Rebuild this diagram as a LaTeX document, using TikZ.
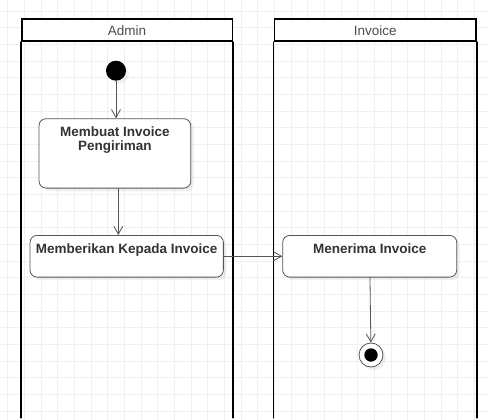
\documentclass[tikz,border=0pt]{standalone}
\usepackage{fontspec}
\setmainfont{Liberation Sans}
\usetikzlibrary{arrows.meta,shadows}
\definecolor{gridgray}{HTML}{F0F0F0}
\definecolor{edgegray}{HTML}{555555}
\definecolor{textgray}{HTML}{333333}
\definecolor{headgray}{HTML}{4D4D4D}

\begin{document}
\begin{tikzpicture}[x=1pt,y=-1pt,line cap=round,
  lanehead/.style={draw=black,line width=1.6pt,fill=white,minimum height=22pt,
    inner sep=0pt,font=\fontsize{13.5}{16}\selectfont,text=headgray},
  lane/.style={draw=black,line width=1.6pt},
  act/.style={draw=edgegray,fill=white,rounded corners=7pt,line width=0.8pt,
    font=\bfseries\fontsize{13.5}{14}\selectfont,text=textgray,align=center,
    anchor=north,inner ysep=8pt,text height=10pt,
    drop shadow={shadow xshift=3pt,shadow yshift=-3pt,opacity=0.12}},
  startnode/.style={circle,fill=black,minimum size=20pt,inner sep=0pt,
    drop shadow={shadow xshift=3pt,shadow yshift=-3pt,opacity=0.12}},
  stopnode/.style={circle,draw=edgegray,fill=white,minimum size=24pt,inner sep=0pt,
    line width=0.8pt,
    path picture={\fill[black] (path picture bounding box.center) circle (6.7pt);},
    drop shadow={shadow xshift=3pt,shadow yshift=-3pt,opacity=0.12}},
  flow/.style={draw=edgegray,line width=0.8pt,-{Straight Barb[length=8pt,width=9pt]}}]
\useasboundingbox (0,0) rectangle (488,420);
% canvas and grid
\fill[white] (0,0) rectangle (488,420);
\foreach \gx in {0,...,28}
  \draw[gridgray,line width=0.6pt] (7.5+16.67*\gx,0) -- (7.5+16.67*\gx,420);
\foreach \gy in {0,...,24}
  \draw[gridgray,line width=0.6pt] (0,11+16.67*\gy) -- (488,11+16.67*\gy);
% swimlanes
\node[lanehead,minimum width=210.6pt] (hadmin) at (127,30.3) {Admin};
\node[lanehead,minimum width=201.7pt] (hinv) at (375.15,30.3) {Invoice};
\draw[lane] (hadmin.south west) -- ++(0,375.7);
\draw[lane] (hadmin.south east) -- ++(0,375.7);
\draw[lane] (hinv.south west) -- ++(0,375.7);
\draw[lane] (hinv.south east) -- ++(0,375.7);
% activities
\node[startnode] (st) at (116,70.7) {};
\node[act,minimum width=151.7pt,text height=24pt,text depth=29.4pt] (mk) at (114.9,118.3)
  {Membuat Invoice\\Pengiriman};
\node[act,minimum width=193.3pt,text depth=15.7pt] (mb) at (126.7,235)
  {Memberikan Kepada Invoice};
\node[act,minimum width=174pt,text depth=15.7pt] (mt) at (369.7,235)
  {Menerima Invoice};
\node[stopnode] (en) at (371,355) {};
% flows
\draw[flow] (st) -- (st |- mk.north);
\draw[flow] ([xshift=3.4pt]mk.south) -- ([xshift=3.4pt]mk.south |- mb.north);
\draw[flow] (mb.east) -- (mb.east -| mt.west);
\draw[flow] (mt) -- (en);
\end{tikzpicture}
\end{document}
